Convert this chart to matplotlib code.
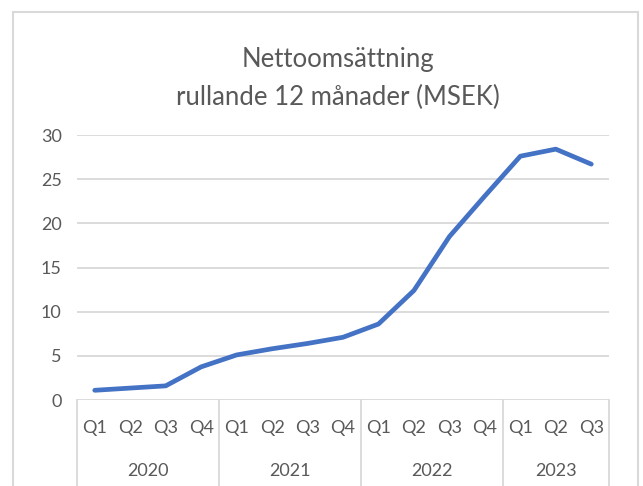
import matplotlib
matplotlib.use("Agg")
import matplotlib.pyplot as plt
from matplotlib.patches import Rectangle
from matplotlib.transforms import blended_transform_factory

# data
quarters = ["Q1", "Q2", "Q3", "Q4", "Q1", "Q2", "Q3", "Q4",
            "Q1", "Q2", "Q3", "Q4", "Q1", "Q2", "Q3"]
years = ["2020", "2021", "2022", "2023"]
quarters_per_year = [4, 4, 4, 3]
sales_msek = [1.1, 1.35, 1.6, 3.75, 5.1, 5.8, 6.4, 7.1,
              8.6, 12.4, 18.5, 23.1, 27.6, 28.4, 26.7]

W, H = 643, 486
TEXT = "#595959"
GRID = "#d9d9d9"
plt.rcParams["font.family"] = ["Lato", "DejaVu Sans"]

fig = plt.figure(figsize=(W / 100, H / 100), dpi=100)
ax = fig.add_axes([77 / W, (H - 400) / H, (609 - 77) / W, (400 - 135) / H])

x = list(range(len(sales_msek)))
ax.plot(x, sales_msek, color="#4472C4", linewidth=3.4,
        solid_capstyle="round", solid_joinstyle="round", clip_on=False, zorder=3)

ax.set_xlim(-0.5, len(sales_msek) - 0.5)
ax.set_ylim(0, 30)
ax.set_yticks(range(0, 31, 5))
ax.yaxis.grid(True, color=GRID, linewidth=1.3)
ax.set_axisbelow(True)
ax.tick_params(axis="y", length=0, pad=11, labelsize=13, labelcolor=TEXT)
ax.set_xticks([])
for s in ax.spines.values():
    s.set_visible(False)

# multi-level category axis
tr = blended_transform_factory(ax.transData, ax.transAxes)
for i, q in enumerate(quarters):
    ax.text(i, -0.106, q, transform=tr, ha="center", va="center",
            fontsize=13, color=TEXT)

bounds = [-0.5]
for n in quarters_per_year:
    bounds.append(bounds[-1] + n)
for b in bounds:
    ax.plot([b, b], [0, -0.4], transform=tr, color=GRID, linewidth=1.3, clip_on=False)
for yr, a, b in zip(years, bounds[:-1], bounds[1:]):
    ax.text((a + b) / 2, -0.268, yr, transform=tr, ha="center", va="center",
            fontsize=13, color=TEXT)

# title
fig.text(338 / W, 1 - 60 / H, "Nettoomsättning", ha="center", va="center",
         fontsize=18.5, color=TEXT)
fig.text(338 / W, 1 - 97 / H, "rullande 12 månader (MSEK)", ha="center", va="center",
         fontsize=18.5, color=TEXT)

# chart area border
fig.patches.append(Rectangle((12.5 / W, -0.1), (638 - 12.5) / W, 1 - 12.5 / H + 0.1,
                             transform=fig.transFigure, fill=False,
                             edgecolor=GRID, linewidth=1.5))

fig.savefig("out.png", dpi=100)
